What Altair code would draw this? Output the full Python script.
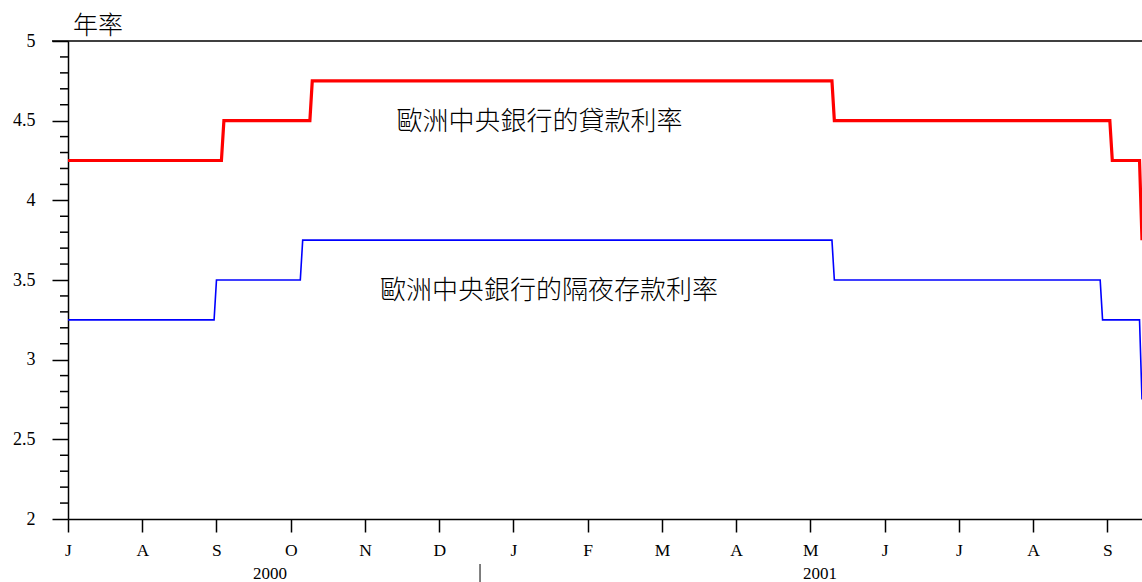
import calendar
import altair as alt
import pandas as pd

# ---- data ----
month_letters = ["J", "A", "S", "O", "N", "D", "J", "F", "M", "A", "M", "J", "J", "A", "S"]

lending_dates = ["2000-07-01", "2000-09-03", "2000-09-04", "2000-10-09", "2000-10-10",
                 "2001-05-10", "2001-05-11", "2001-09-02", "2001-09-03", "2001-09-14", "2001-09-15"]
lending_rates = [4.25, 4.25, 4.50, 4.50, 4.75, 4.75, 4.50, 4.50, 4.25, 4.25, 3.75]

deposit_dates = ["2000-07-01", "2000-08-31", "2000-09-01", "2000-10-05", "2000-10-06",
                 "2001-05-10", "2001-05-11", "2001-08-29", "2001-08-30", "2001-09-14", "2001-09-15"]
deposit_rates = [3.25, 3.25, 3.50, 3.50, 3.75, 3.75, 3.50, 3.50, 3.25, 3.25, 2.75]

year_labels = ["2000", "2001"]
year_label_month = [2.72, 10.13]
year_break_month = [5.55]

y_major = [2, 2.5, 3, 3.5, 4, 4.5, 5]
y_minor = [2.1, 2.2, 2.3, 2.4, 2.6, 2.7, 2.8, 2.9, 3.1, 3.2, 3.3, 3.4, 3.6, 3.7, 3.8, 3.9,
           4.1, 4.2, 4.3, 4.4, 4.6, 4.7, 4.8, 4.9]

lending_label = "歐洲中央銀行的貸款利率"
deposit_label = "歐洲中央銀行的隔夜存款利率"
y_title = "年率"


def month_pos(s):
    t = pd.Timestamp(s)
    return (t.year - 2000) * 12 + (t.month - 7) + (t.day - 1) / calendar.monthrange(t.year, t.month)[1]


lend_df = pd.DataFrame({"pos": [month_pos(d) for d in lending_dates], "rate": lending_rates})
dep_df = pd.DataFrame({"pos": [month_pos(d) for d in deposit_dates], "rate": deposit_rates})
minor_df = pd.DataFrame({"rate": y_minor})
year_df = pd.DataFrame({"pos": year_label_month, "label": year_labels})
break_df = pd.DataFrame({"pos": year_break_month})
one_df = pd.DataFrame({"a": [0]})

W, H = 1074, 478
x_end = max(lend_df["pos"].max(), dep_df["pos"].max())

SERIF = "Liberation Serif"
CJK = "Noto Sans CJK TC"

xscale = alt.Scale(domain=[0, x_end], nice=False, zero=False)
yscale = alt.Scale(domain=[2, 5], nice=False, zero=False)

letters_js = "[" + ",".join("'%s'" % m for m in month_letters) + "]"
xaxis = alt.Axis(
    values=list(range(len(month_letters))),
    labelExpr=letters_js + "[round(datum.value)]",
    title=None, grid=False, tickSize=13, tickWidth=1.5, tickColor="black",
    domainColor="black", domainWidth=1.5, labelFont=SERIF, labelFontSize=17.5,
    labelColor="black", labelPadding=9, labelFlush=False, labelOverlap=False,
)
yaxis = alt.Axis(
    values=y_major, format="~g", title=None, grid=False, tickSize=16, tickWidth=1.5,
    tickColor="black", domainColor="black", domainWidth=1.5, labelFont=SERIF,
    labelFontSize=18, labelColor="black", labelPadding=17, labelFlush=False,
    labelOverlap=False,
)

X = alt.X("pos:Q", scale=xscale, axis=xaxis)
Y = alt.Y("rate:Q", scale=yscale, axis=yaxis)

lend_line = alt.Chart(lend_df).mark_line(color="#ff0000", strokeWidth=3.2, clip=True).encode(x=X, y=Y)
dep_line = alt.Chart(dep_df).mark_line(color="#0000ff", strokeWidth=1.6, clip=True).encode(x=X, y=Y)

minor_ticks = alt.Chart(minor_df).mark_rule(color="black", strokeWidth=1.5).encode(
    y=alt.Y("rate:Q", scale=yscale), x=alt.value(-8), x2=alt.value(0)
)
top_border = alt.Chart(one_df).mark_rule(color="black", strokeWidth=1.5).encode(
    x=alt.value(-16), x2=alt.value(W), y=alt.value(0)
)
year_text = alt.Chart(year_df).mark_text(font=SERIF, fontSize=17, color="black",
                                         baseline="middle", align="center").encode(
    x=alt.X("pos:Q", scale=xscale), y=alt.value(533), text="label:N"
)
year_break = alt.Chart(break_df).mark_rule(color="black", strokeWidth=1).encode(
    x=alt.X("pos:Q", scale=xscale), y=alt.value(523), y2=alt.value(541)
)
title_text = alt.Chart(one_df).mark_text(font=CJK, fontSize=25, fontWeight=300, color="black",
                                         align="left", baseline="middle", text=y_title).encode(
    x=alt.value(5), y=alt.value(-15)
)
lend_text = alt.Chart(one_df).mark_text(font=CJK, fontSize=26, fontWeight=300, color="black",
                                        align="center", baseline="middle", text=lending_label).encode(
    x=alt.datum(6.35), y=alt.datum(4.491)
)
dep_text = alt.Chart(one_df).mark_text(font=CJK, fontSize=26, fontWeight=300, color="black",
                                       align="center", baseline="middle", text=deposit_label).encode(
    x=alt.datum(6.48), y=alt.datum(3.43)
)

chart = alt.layer(
    lend_line, dep_line, minor_ticks, top_border, year_text, year_break,
    title_text, lend_text, dep_text
).properties(
    width=W, height=H,
    autosize=alt.AutoSizeParams(type="none"),
    padding={"left": 68, "top": 41, "right": 0, "bottom": 63},
    background="white",
).configure_view(stroke=None)

chart.save("out.html", embed_options={"renderer": "svg", "actions": False})
